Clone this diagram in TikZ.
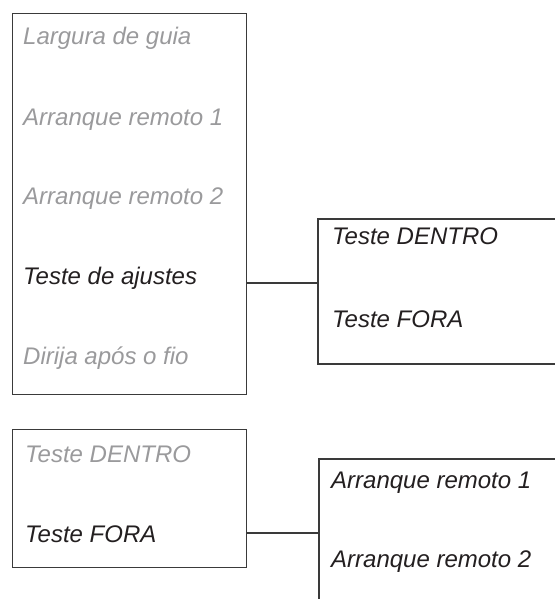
\documentclass[tikz,border=0pt]{standalone}
\usepackage{fontspec}
\setmainfont{Liberation Sans}
\begin{document}
\begin{tikzpicture}[x=1pt,y=-1pt,
  box/.style={draw=linec,line width=1.3pt,rectangle,inner sep=0pt},
  lbl/.style={anchor=base west,inner sep=0pt,font=\fontsize{24}{28}\selectfont\itshape},
  act/.style={lbl,text=actc},
  dim/.style={lbl,text=dimc},
  wire/.style={draw=linec,line width=1.3pt}]
\definecolor{linec}{HTML}{3A3A3A}
\definecolor{actc}{HTML}{231F20}
\definecolor{dimc}{HTML}{9A9A9C}
\useasboundingbox (0,0) rectangle (554,599);
% box 1
\node[box,minimum width=234pt,minimum height=381pt,anchor=north west] (b1) at (12,13) {};
\node[dim] (t11) at (23,45) {Largura de guia};
\node[dim] (t12) at (23,125) {Arranque remoto 1};
\node[dim] (t13) at (23,204) {Arranque remoto 2};
\node[act] (t14) at (23,284) {Teste de ajustes};
\node[dim] (t15) at (23,364) {Dirija após o fio};
% box 2 (open to the right)
\coordinate (b2tl) at (318,219);
\coordinate (b2bl) at (318,364);
\coordinate (b2w) at (318,283);
\draw[wire] (556,219) -- (b2tl) -- (b2bl) -- (556,364);
\node[act] (t21) at (332,244) {Teste DENTRO};
\node[act] (t22) at (332,327) {Teste FORA};
\draw[wire] (b1.east |- b2w) -- (b2w);
% box 3
\node[box,minimum width=234pt,minimum height=138pt,anchor=north west] (b3) at (12,429) {};
\node[dim] (t31) at (25,462) {Teste DENTRO};
\node[act] (t32) at (25,542) {Teste FORA};
% box 4 (open to the right and bottom)
\coordinate (b4tl) at (319,459);
\coordinate (b4w) at (319,533);
\draw[wire] (556,459) -- (b4tl) -- (319,601);
\node[act] (t41) at (331,488) {Arranque remoto 1};
\node[act] (t42) at (331,567) {Arranque remoto 2};
\draw[wire] (b3.east |- b4w) -- (b4w);
\end{tikzpicture}
\end{document}
